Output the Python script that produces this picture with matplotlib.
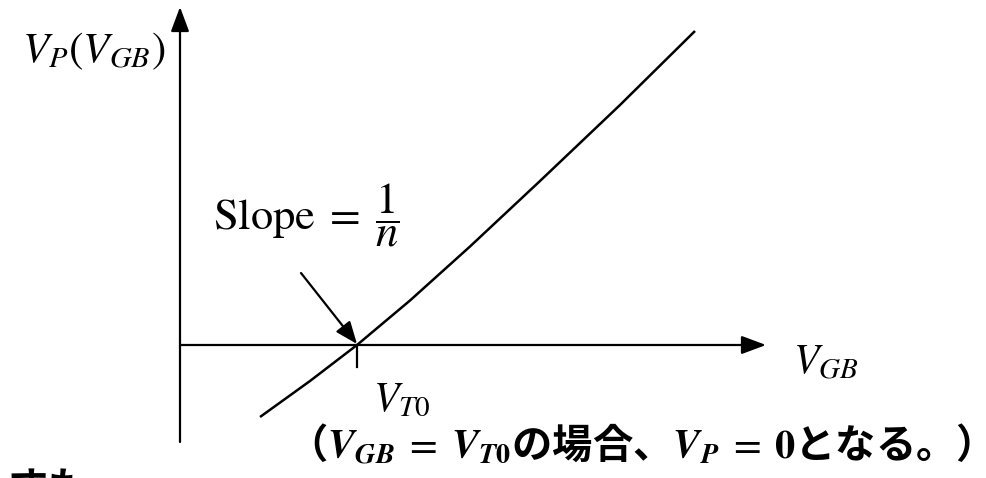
import matplotlib
matplotlib.use("Agg")
import matplotlib.pyplot as plt

plt.rcParams['mathtext.fontset'] = 'stix'
plt.rcParams['font.family'] = ['Noto Sans CJK JP', 'DejaVu Sans']

# V_P as a function of V_GB (arbitrary units)
vgb = [0.80, 1.30, 1.77, 2.30, 2.90, 3.60, 4.40, 5.15]
vp = [-0.72, -0.36, 0.00, 0.445, 0.985, 1.64, 2.40, 3.14]
vt0 = 1.77

ylabel = r'$V_P(V_{GB})$'
xlabel = r'$V_{GB}$'
vt0_label = r'$V_{T0}$'
slope_label = r'$\mathrm{Slope}\;=\;\dfrac{1}{n}$'
note = (r'（$\mathbfit{V}_{\mathbfit{GB}}\;=\;\mathbfit{V}_{\mathbfit{T}\mathbf{0}}$の場合、'
        r'$\mathbfit{V}_{\mathbfit{P}}\;=\;\mathbf{0}$となる。）')
cut_text = 'すも'

fig = plt.figure(figsize=(9.87, 4.78), dpi=100)
ax = fig.add_axes([0, 0, 1, 1])
ax.set_xlim(-1.80, 8.07)
ax.set_ylim(-1.33, 3.45)
ax.axis('off')

axis_arrow = dict(arrowstyle='-|>,head_length=0.75,head_width=0.28',
                  mutation_scale=20, lw=1.6, color='black',
                  shrinkA=0, shrinkB=0)
# vertical and horizontal axes
ax.annotate('', xy=(0, 3.38), xytext=(0, -0.97), arrowprops=axis_arrow)
ax.annotate('', xy=(5.86, 0), xytext=(0, 0), arrowprops=axis_arrow)

# curve
ax.plot(vgb, vp, color='black', lw=1.8, solid_capstyle='butt')

# tick at V_T0
ax.plot([vt0, vt0], [0, -0.22], color='black', lw=1.6)

# slope pointer
ax.annotate('', xy=(vt0, 0.01), xytext=(1.21, 0.72),
            arrowprops=dict(arrowstyle='-|>,head_length=0.8,head_width=0.32',
                            mutation_scale=17, lw=1.6, color='black',
                            shrinkA=0, shrinkB=0))

ax.text(-0.86, 2.95, ylabel, fontsize=31, ha='center', va='center')
ax.text(0.33, 1.30, slope_label, fontsize=32, ha='left', va='center')
ax.text(6.46, -0.17, xlabel, fontsize=30, ha='center', va='center')
ax.text(2.22, -0.55, vt0_label, fontsize=30, ha='center', va='center')
ax.text(4.49, -1.00, note, fontsize=29, ha='center', va='center',
        fontweight='bold')
ax.text(-1.73, -1.24, cut_text, fontsize=29, ha='left', va='top',
        fontweight='bold')

fig.savefig('out.png', dpi=100)
